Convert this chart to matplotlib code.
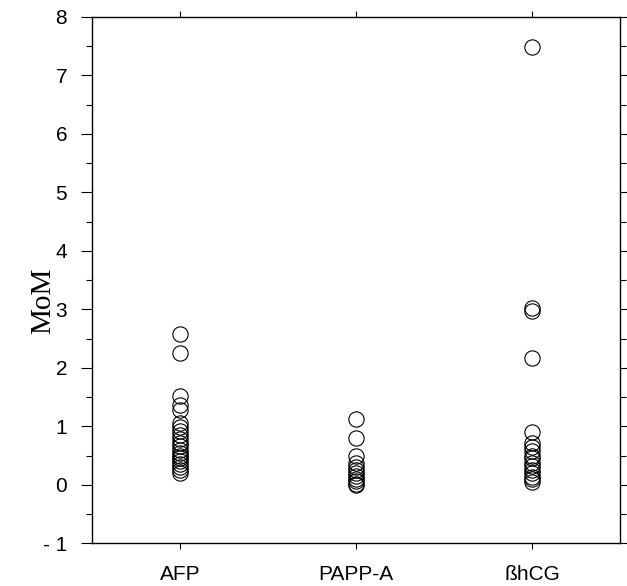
import matplotlib.pyplot as plt
from matplotlib.ticker import MultipleLocator

# valores (MoM)
categories = ['AFP', 'PAPP-A', 'ßhCG']
afp = [2.58, 2.25, 1.52, 1.37, 1.27, 1.05, 0.98, 0.92, 0.85, 0.78, 0.72, 0.66,
       0.60, 0.55, 0.50, 0.45, 0.40, 0.35, 0.30, 0.25, 0.20]
pappa = [1.12, 0.80, 0.50, 0.38, 0.30, 0.25, 0.20, 0.15, 0.10, 0.06, 0.02, 0.0]
bhcg = [7.48, 3.03, 2.98, 2.17, 0.90, 0.72, 0.65, 0.58, 0.50, 0.45, 0.38, 0.32,
        0.25, 0.20, 0.14, 0.09, 0.05]
yticks = [-1, 0, 1, 2, 3, 4, 5, 6, 7, 8]
ytick_labels = ['- 1', '0', '1', '2', '3', '4', '5', '6', '7', '8']

fig = plt.figure(figsize=(6.27, 5.86), dpi=100)
ax = fig.add_axes([0.147, 0.073, 0.842, 0.898])

for i, vals in enumerate([afp, pappa, bhcg]):
    ax.plot([i + 1] * len(vals), vals, 'o', ls='none', ms=11,
            markerfacecolor='none', markeredgecolor='k', markeredgewidth=0.8)

ax.set_xlim(0.5, 3.5)
ax.set_ylim(-1, 8)
ax.set_xticks([1, 2, 3])
ax.set_xticklabels(categories, fontsize=15, family='Liberation Sans')
ax.set_yticks(yticks)
ax.set_yticklabels(ytick_labels, fontsize=15, family='Liberation Sans')
ax.yaxis.set_minor_locator(MultipleLocator(0.5))

ax.tick_params(axis='y', which='major', direction='out', length=8, width=0.8,
               right=True, pad=10)
ax.tick_params(axis='y', which='minor', direction='out', length=4, width=0.8, right=True)
ax.tick_params(axis='x', which='major', direction='out', length=4, width=0.8,
               top=True, pad=12)
for s in ax.spines.values():
    s.set_linewidth(1.0)

ax.set_ylabel('MoM', fontsize=21, family='Liberation Serif')
ax.yaxis.set_label_coords(-0.068, 0.46)

plt.savefig('out.png', dpi=100)
